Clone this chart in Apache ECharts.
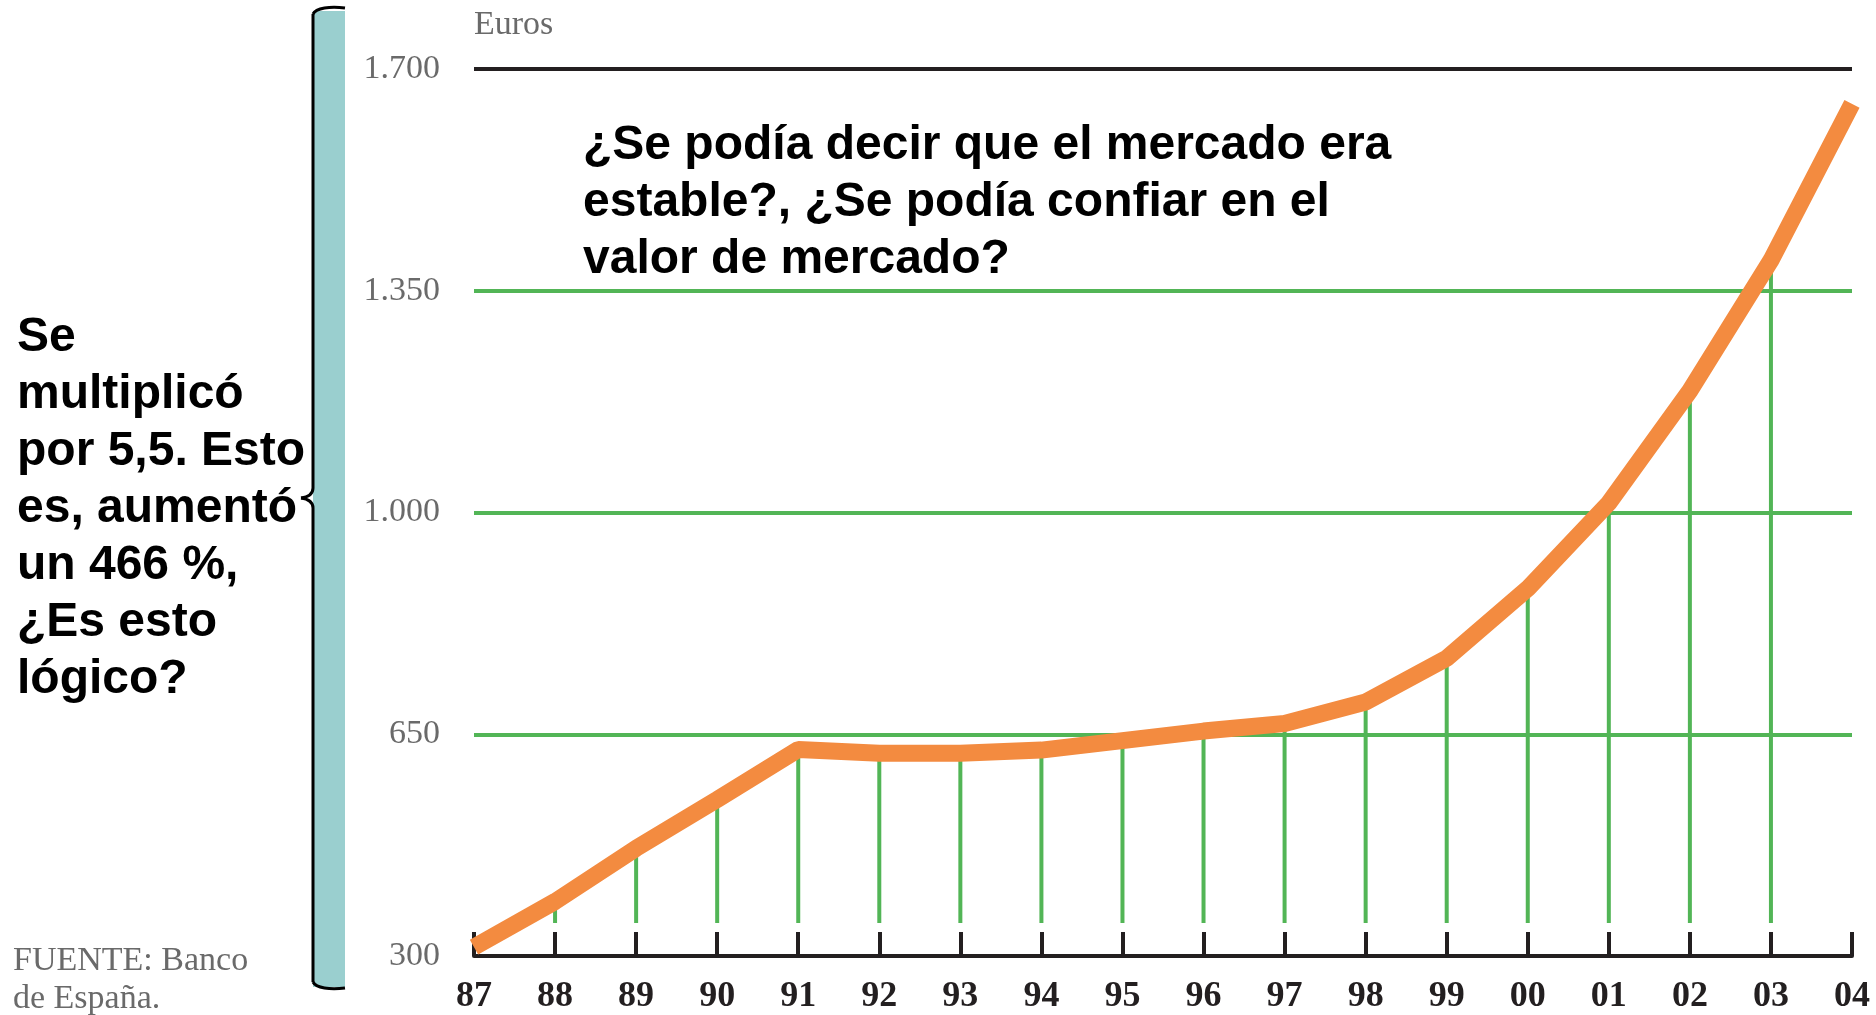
<!DOCTYPE html>
<html>
<head>
<meta charset="utf-8">
<title>Precio vivienda</title>
<script src="https://cdn.jsdelivr.net/npm/echarts@6/dist/echarts.min.js"></script>
<style>
	html, body { margin: 0; padding: 0; background: #fff; }
	#chart { width: 1876px; height: 1015px; }
</style>
</head>
<body>
<div id="chart"></div>
<script>
var years = ['87','88','89','90','91','92','93','94','95','96','97','98','99','00','01','02','03','04'];
var price = [314, 386, 470, 547, 626, 620, 620, 625, 640, 655, 667, 701, 770, 880, 1015, 1192, 1398, 1645];
var yTicks = [300, 650, 1000, 1350, 1700];

var green = '#52b556';
var orange = '#f38b40';
var ink = '#231f20';
var grey = '#6a6a6a';

var chart = echarts.init(document.getElementById('chart'));

// drop lines only for the inner years, like the original
var drops = [];
price.forEach(function (v, i) {
	if (i > 0 && i < price.length - 1) drops.push([i, v]);
});

function thousands(v) {
	return String(v).replace(/\B(?=(\d{3})+(?!\d))/g, '.');
}

var braceStyle = { fill: null, stroke: '#000', lineWidth: 3 };

var option = {
	animation: false,
	backgroundColor: '#fff',
	grid: { left: 474, right: 24, top: 69, bottom: 52 },
	xAxis: {
		type: 'category',
		data: years,
		boundaryGap: false,
		axisLine: { lineStyle: { color: ink, width: 4 } },
		axisTick: { inside: true, length: 24, lineStyle: { color: ink, width: 4 } },
		axisLabel: {
			margin: 23,
			color: ink,
			fontFamily: 'Liberation Serif',
			fontWeight: 'bold',
			fontSize: 36
		},
		splitLine: { show: false }
	},
	yAxis: {
		type: 'value',
		min: yTicks[0],
		max: yTicks[yTicks.length - 1],
		interval: yTicks[1] - yTicks[0],
		name: 'Euros',
		nameLocation: 'end',
		nameGap: 27,
		nameTextStyle: {
			align: 'left',
			color: grey,
			fontFamily: 'Liberation Serif',
			fontSize: 34
		},
		axisLine: { show: false },
		axisTick: { show: false },
		axisLabel: {
			margin: 34,
			color: grey,
			fontFamily: 'Liberation Serif',
			fontSize: 34,
			formatter: thousands
		},
		splitLine: {
			lineStyle: { color: ['rgba(0,0,0,0)', green, green, green, ink], width: 4 }
		}
	},
	graphic: [
		// teal bar with the curly brace on its left side
		{ type: 'rect', shape: { x: 313, y: 11, width: 32, height: 976 }, style: { fill: '#9acfcf' } },
		{ type: 'bezierCurve', shape: { x1: 345, y1: 8, cpx1: 330, cpy1: 6, cpx2: 316, cpy2: 8, x2: 313, y2: 14 }, style: braceStyle },
		{ type: 'line', shape: { x1: 313, y1: 14, x2: 313, y2: 488 }, style: braceStyle },
		{ type: 'bezierCurve', shape: { x1: 313, y1: 488, cpx1: 313, cpy1: 494, cpx2: 308, cpy2: 497, x2: 301, y2: 498 }, style: braceStyle },
		{ type: 'bezierCurve', shape: { x1: 301, y1: 498, cpx1: 308, cpy1: 499, cpx2: 313, cpy2: 502, x2: 313, y2: 508 }, style: braceStyle },
		{ type: 'line', shape: { x1: 313, y1: 508, x2: 313, y2: 982 }, style: braceStyle },
		{ type: 'bezierCurve', shape: { x1: 313, y1: 982, cpx1: 316, cpy1: 988, cpx2: 330, cpy2: 990, x2: 345, y2: 988 }, style: braceStyle },
		{
			type: 'text',
			left: 583,
			top: 117,
			style: {
				text: '¿Se podía decir que el mercado era\nestable?, ¿Se podía confiar en el\nvalor de mercado?',
				fill: '#000',
				font: 'bold 48px "Liberation Sans", Arial, sans-serif',
				lineHeight: 57
			}
		},
		{
			type: 'text',
			left: 17,
			top: 309,
			style: {
				text: 'Se\nmultiplicó\npor 5,5. Esto\nes, aumentó\nun 466 %,\n¿Es esto\nlógico?',
				fill: '#000',
				font: 'bold 48px "Liberation Sans", Arial, sans-serif',
				lineHeight: 57
			}
		},
		{
			type: 'text',
			left: 13,
			top: 942,
			style: {
				text: 'FUENTE: Banco\nde España.',
				fill: grey,
				font: '34px "Liberation Serif", serif',
				lineHeight: 38
			}
		}
	],
	series: [
		{
			type: 'custom',
			z: 1,
			data: drops,
			renderItem: function (params, api) {
				var top = api.coord([api.value(0), api.value(1)]);
				var base = api.coord([api.value(0), yTicks[0]]);
				return {
					type: 'line',
					shape: { x1: top[0], y1: top[1], x2: base[0], y2: base[1] - 33 },
					style: { stroke: green, lineWidth: 4 }
				};
			}
		},
		{
			type: 'line',
			z: 3,
			data: price,
			symbol: 'none',
			lineStyle: { color: orange, width: 17 }
		}
	]
};

chart.setOption(option);
</script>
</body>
</html>
